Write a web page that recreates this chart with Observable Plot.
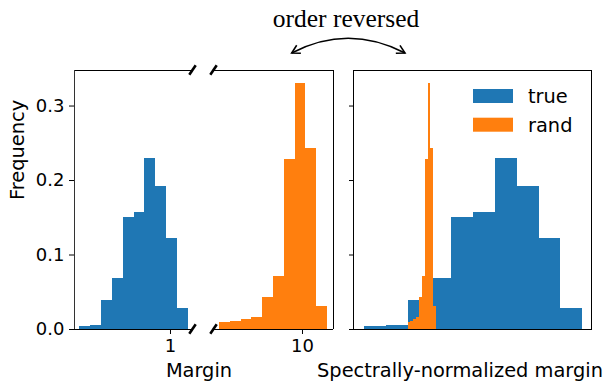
<!DOCTYPE html>
<html>
<head>
<meta charset="utf-8">
<script src="https://cdn.jsdelivr.net/npm/d3@7"></script>
<script src="https://cdn.jsdelivr.net/npm/@observablehq/plot@0.6"></script>
<style>
  html, body { margin: 0; padding: 0; background: white; }
  #chart { position: relative; width: 609px; height: 383px; overflow: hidden; }
  #chart svg { position: absolute; left: 0; top: 0; }
</style>
</head>
<body>
<div id="chart"></div>
<script>
// ---- data ----
const seriesNames = ["true", "rand"];
const seriesColors = ["#1f77b4", "#ff7f0e"];

// frequencies per bin (same data in both panels)
const trueFreq = [0.004, 0.005, 0.039, 0.068, 0.151, 0.157, 0.229, 0.192, 0.122, 0.028];
const randFreq = [0.0094, 0.0107, 0.0134, 0.016, 0.043, 0.071, 0.228, 0.330, 0.243, 0.031];

// bin edges, margin (log axis)
const marginTrueEdges = [0.351, 0.398, 0.451, 0.511, 0.579, 0.657, 0.745, 0.844, 0.957, 1.085, 1.230];
const marginRandEdges = [3.85, 4.36, 4.93, 5.58, 6.32, 7.16, 8.11, 9.18, 10.40, 11.78, 13.34];
// bin edges, spectrally-normalized margin (arbitrary linear units)
const snTrueEdges = [0.0, 1.0, 2.0, 3.0, 4.0, 5.0, 6.0, 7.0, 8.0, 9.0, 10.0];
const snRandEdges = [2.00, 2.13, 2.26, 2.39, 2.52, 2.65, 2.78, 2.91, 3.04, 3.17, 3.30];

const yTicks = [0, 0.1, 0.2, 0.3];
const yMax = 0.3477;
const xDomainTrue = [0.331, 1.296];
const xDomainRand = [3.61, 14.29];
const xDomainSN = [-0.504, 10.40];
const tickTrue = [1];
const tickRand = [10];

const titleText = "order reversed";
const xLabelLeft = "Margin";
const xLabelRight = "Spectrally-normalized margin";
const yLabel = "Frequency";

// ---- helpers ----
const bins = (edges, freq) => freq.map((f, i) => ({x1: edges[i], x2: edges[i + 1], f}));
const W = 609, H = 383;
const FONT = "DejaVu Sans";
const TICK_FS = 18, LABEL_FS = 19.4;
const baseStyle = {fontFamily: FONT, fontSize: TICK_FS + "px", background: "transparent", color: "black", overflow: "visible"};
const mTop = 70, mBottom = 54;

// diagonal break marks at the frame corners on given sides
function breakMarks(sides) {
  return (index, scales, values, dims) => {
    const g = d3.create("svg:g");
    for (const s of sides) {
      const x = s === "left" ? dims.marginLeft : dims.width - dims.marginRight;
      for (const y of [dims.marginTop, dims.height - dims.marginBottom]) {
        g.append("line")
          .attr("x1", x - 3.2).attr("y1", y + 4.7)
          .attr("x2", x + 3.2).attr("y2", y - 4.7)
          .attr("stroke", "black").attr("stroke-width", 2.6);
      }
    }
    return g.node();
  };
}

const chart = document.getElementById("chart");
const crisp = {shapeRendering: "crispEdges"};

// Left sub-panel: true margins
const plotA = Plot.plot({
  width: W, height: H,
  marginLeft: 74, marginRight: W - 192.5, marginTop: mTop, marginBottom: mBottom,
  style: baseStyle,
  x: {type: "log", domain: xDomainTrue},
  y: {domain: [0, yMax]},
  marks: [
    Plot.rectY(bins(marginTrueEdges, trueFreq), {x1: "x1", x2: "x2", y: "f", fill: seriesColors[0], ...crisp}),
    Plot.ruleY([0], {strokeWidth: 1}),
    Plot.ruleY([yMax], {strokeWidth: 1}),
    Plot.ruleX([xDomainTrue[0]], {strokeWidth: 1, stroke: "#333"}),
    Plot.axisY({ticks: yTicks, tickFormat: d3.format(".1f"), tickSize: 5, tickPadding: 5, label: null}),
    Plot.axisX({ticks: tickTrue, tickFormat: d => String(d), tickSize: 5, tickPadding: 5, label: null}),
    Plot.text([yLabel], {frameAnchor: "left", rotate: -90, dx: -56.5, fontSize: LABEL_FS}),
    breakMarks(["right"])
  ]
});

// Right sub-panel: random-label margins
const plotB = Plot.plot({
  width: W, height: H,
  marginLeft: 213.5, marginRight: W - 333, marginTop: mTop, marginBottom: mBottom,
  style: baseStyle,
  x: {type: "log", domain: xDomainRand},
  y: {domain: [0, yMax], axis: null},
  marks: [
    Plot.rectY(bins(marginRandEdges, randFreq), {x1: "x1", x2: "x2", y: "f", fill: seriesColors[1], ...crisp}),
    Plot.ruleY([0], {strokeWidth: 1}),
    Plot.ruleY([yMax], {strokeWidth: 1}),
    Plot.ruleX([xDomainRand[1]], {strokeWidth: 1}),
    Plot.axisX({ticks: tickRand, tickFormat: d => String(d), tickSize: 5, tickPadding: 5, label: null}),
    breakMarks(["left"])
  ]
});

// Right panel: spectrally-normalized margins
const plotC = Plot.plot({
  width: W, height: H,
  marginLeft: 353, marginRight: W - 591, marginTop: mTop, marginBottom: mBottom,
  style: baseStyle,
  x: {domain: xDomainSN, axis: null},
  y: {domain: [0, yMax]},
  marks: [
    Plot.rectY(bins(snTrueEdges, trueFreq), {x1: "x1", x2: "x2", y: "f", fill: seriesColors[0], ...crisp}),
    Plot.rectY(bins(snRandEdges, randFreq), {x1: "x1", x2: "x2", y: "f", fill: seriesColors[1], ...crisp}),
    Plot.frame({strokeWidth: 1}),
    Plot.axisY({ticks: yTicks, tickFormat: () => "", tickSize: 4, label: null})
  ]
});

for (const p of [plotA, plotB, plotC]) chart.appendChild(p);

// ---- annotations overlay: labels, legend, title, arrow ----
const ov = d3.select(chart).append("svg")
  .attr("width", W).attr("height", H)
  .attr("font-family", FONT).attr("font-size", LABEL_FS);

ov.append("text").attr("x", 199).attr("y", 376.7).attr("text-anchor", "middle").text(xLabelLeft);
ov.append("text").attr("x", 460).attr("y", 376.7).attr("text-anchor", "middle").text(xLabelRight);

seriesNames.forEach((name, i) => {
  const y0 = 89 + i * 28.7;
  ov.append("rect").attr("x", 473).attr("y", y0).attr("width", 40).attr("height", 14).attr("fill", seriesColors[i]);
  ov.append("text").attr("x", 528).attr("y", y0 + 14.3).text(name);
});

ov.append("text")
  .attr("x", 346).attr("y", 27.3).attr("text-anchor", "middle")
  .attr("font-family", "Liberation Serif").attr("font-size", 25.5)
  .text(titleText);

const defs = ov.append("defs");
defs.append("marker")
  .attr("id", "ah").attr("viewBox", "-10 -10 20 20")
  .attr("refX", 0).attr("refY", 0)
  .attr("markerWidth", 20).attr("markerHeight", 20)
  .attr("markerUnits", "userSpaceOnUse")
  .attr("orient", "auto-start-reverse")
  .append("path").attr("d", "M-8,-4.5L0,0L-8,4.5")
  .attr("fill", "none").attr("stroke", "black").attr("stroke-width", 1.6);

ov.append("path")
  .attr("d", "M291.7,53 Q348,23.5 405,53")
  .attr("fill", "none").attr("stroke", "black").attr("stroke-width", 1.6)
  .attr("marker-start", "url(#ah)").attr("marker-end", "url(#ah)");
</script>
</body>
</html>
